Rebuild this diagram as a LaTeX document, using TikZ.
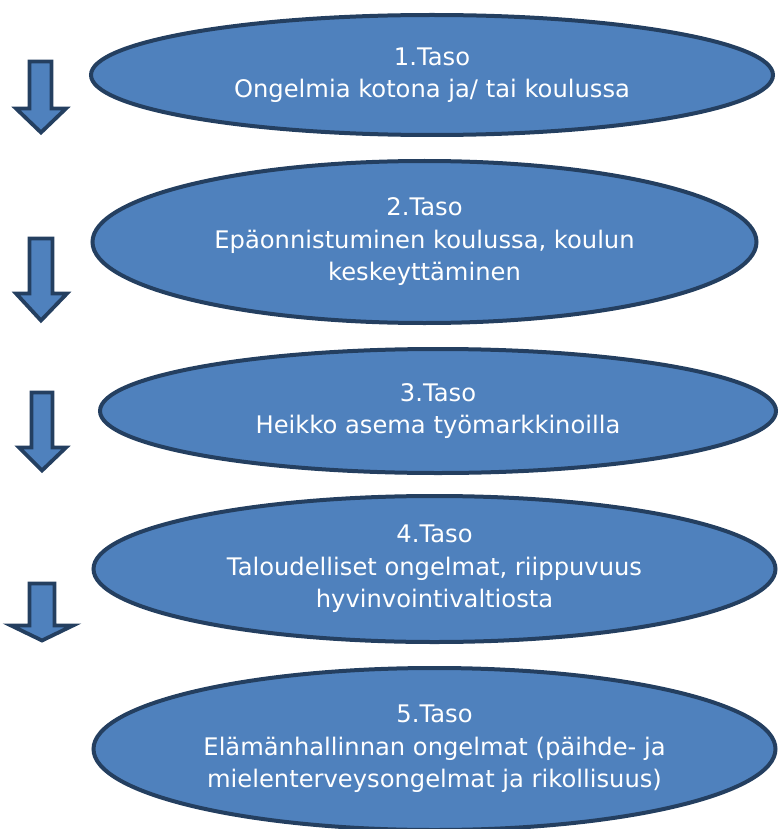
\documentclass[tikz,border=0pt]{standalone}
\usepackage{fontspec}
\setmainfont{DejaVu Sans}
\usetikzlibrary{shapes.geometric}
\definecolor{fillblue}{HTML}{4F81BD}
\definecolor{edgeblue}{HTML}{243F60}
\begin{document}
\begin{tikzpicture}[x=1pt,y=-1pt,
  level/.style={ellipse, draw=edgeblue, fill=fillblue, line width=4pt, inner sep=0pt,
    text=white, align=center, font=\fontsize{24.2}{32.5}\selectfont},
  downarrow/.style={draw=edgeblue, fill=fillblue, line width=3.8pt, line join=miter}]
\useasboundingbox (0,0) rectangle (778,829);
% levels
\node[level, minimum width=682pt, minimum height=120pt] (t1) at (432,75)
  {1.Taso\\Ongelmia kotona ja/ tai koulussa};
\node[level, minimum width=664pt, minimum height=162pt] (t2) at (424.5,242)
  {2.Taso\\Epäonnistuminen koulussa, koulun\\keskeyttäminen};
\node[level, minimum width=676pt, minimum height=124pt] (t3) at (438,411)
  {3.Taso\\Heikko asema työmarkkinoilla};
\node[level, minimum width=682pt, minimum height=146pt] (t4) at (434.5,569)
  {4.Taso\\Taloudelliset ongelmat, riippuvuus\\hyvinvointivaltiosta};
\node[level, minimum width=682pt, minimum height=162pt] (t5) at (434.5,749)
  {5.Taso\\Elämänhallinnan ongelmat (päihde- ja\\mielenterveysongelmat ja rikollisuus)};
% block arrows
\draw[downarrow] (29.5,61.5) -- (51.5,61.5) -- (51.5,108.5) -- (66,108.5) -- (41,132.5) -- (16,108.5) -- (29.5,108.5) -- cycle;
\draw[downarrow] (29.5,238.5) -- (52.5,238.5) -- (52.5,293.5) -- (67,293.5) -- (41,320.5) -- (16,293.5) -- (29.5,293.5) -- cycle;
\draw[downarrow] (31.5,392.5) -- (52.5,392.5) -- (52.5,447.5) -- (66,447.5) -- (42,470.5) -- (19,447.5) -- (31.5,447.5) -- cycle;
\draw[downarrow] (29.5,583.5) -- (54.5,583.5) -- (54.5,625.5) -- (73,625.5) -- (42,640.5) -- (11,625.5) -- (29.5,625.5) -- cycle;
\end{tikzpicture}
\end{document}
